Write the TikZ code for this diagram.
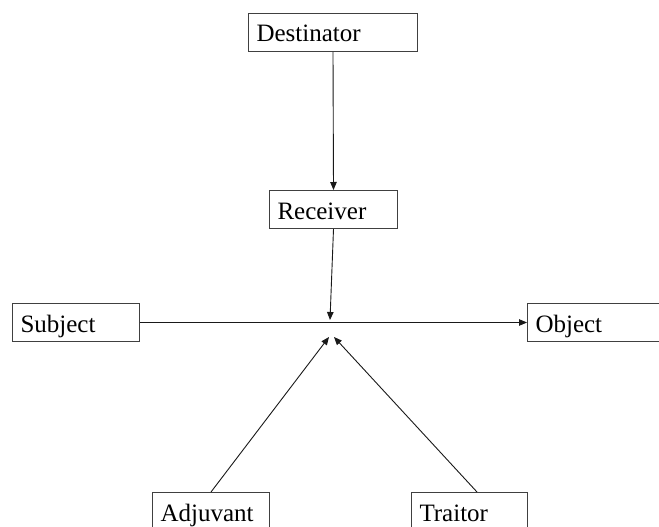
\documentclass[tikz,border=0pt]{standalone}
\usepackage{fontspec}
\setmainfont{Liberation Serif}
\usetikzlibrary{arrows.meta}
\begin{document}
\begin{tikzpicture}[x=1pt,y=1pt,
  role/.style={draw=black!75, line width=1pt, anchor=north west, align=left,
    inner xsep=8pt, minimum height=38pt, text height=21pt, text depth=2pt,
    font=\fontsize{25}{29}\selectfont},
  link/.style={draw=black!90, line width=0.9pt,
    -{Triangle[length=8pt,width=6.5pt]}}]
\clip (0,0) rectangle (659,-527);
\fill[white] (0,0) rectangle (659,-527);

% actant boxes
\node[role, text width=153pt] (dest) at (248,-13)  {Destinator};
\node[role, text width=112pt] (recv) at (269,-190) {Receiver};
\node[role, text width=111pt] (subj) at (12,-303)  {Subject};
\node[role, text width=124pt] (obj)  at (527,-303) {Object};
\node[role, text width=101pt] (adj)  at (152,-492) {Adjuvant};
\node[role, text width=100pt] (trai) at (411,-492) {Traitor};

% meeting points on the subject--object axis
\coordinate (hubR) at (330,-320);
\coordinate (hubA) at (329,-337);
\coordinate (hubT) at (334,-337);
\coordinate (traiTop) at (477,-492);

\draw[link] (dest.south) -- (recv.north);
\draw[link] (recv.south) -- (hubR);
\draw[link] (subj.east) -- (obj.west);
\draw[link] (adj.north) -- (hubA);
\draw[link] (traiTop) -- (hubT);
\end{tikzpicture}
\end{document}
